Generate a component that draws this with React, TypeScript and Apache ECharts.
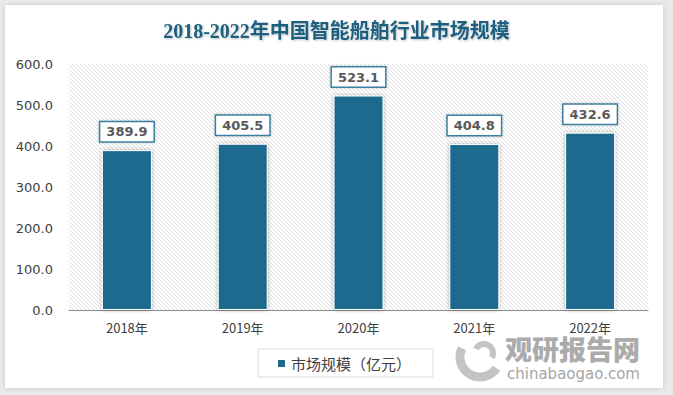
import React, { useEffect, useRef } from "react";
import * as echarts from "echarts";

const categories = ["2018年", "2019年", "2020年", "2021年", "2022年"];
const marketSize = [389.9, 405.5, 523.1, 404.8, 432.6];
const seriesName = "市场规模（亿元）";
const titleText = "2018-2022年中国智能船舶行业市场规模";

function makeHatch(): HTMLCanvasElement {
  const c = document.createElement("canvas");
  c.width = 4;
  c.height = 4;
  const ctx = c.getContext("2d")!;
  ctx.fillStyle = "#ffffff";
  ctx.fillRect(0, 0, 4, 4);
  ctx.strokeStyle = "#dddddd";
  ctx.lineWidth = 1;
  ctx.beginPath();
  ctx.moveTo(0, 0);
  ctx.lineTo(4, 4);
  ctx.moveTo(-1, 3);
  ctx.lineTo(1, 5);
  ctx.moveTo(3, -1);
  ctx.lineTo(5, 1);
  ctx.stroke();
  return c;
}

export default function App() {
  const ref = useRef<HTMLDivElement>(null);
  useEffect(() => {
    document.body.style.margin = "0";
    const chart = echarts.init(ref.current!, null, { renderer: "svg" });
    const hatch = makeHatch();
    chart.setOption({
      animation: false,
      backgroundColor: "#e9e9e9",
      title: {
        text: titleText,
        left: "center",
        top: 16,
        textStyle: {
          fontFamily: "'Liberation Serif', 'Noto Sans CJK SC', serif",
          fontWeight: "bold",
          fontSize: 20,
          color: "#1d5f7e",
          textShadowColor: "rgba(0,0,0,0.25)",
          textShadowBlur: 2,
          textShadowOffsetX: 1,
          textShadowOffsetY: 1,
        },
      },
      graphic: [
        {
          type: "rect",
          z: -10,
          shape: { x: 5, y: 5, width: 658, height: 383 },
          style: { fill: "#ffffff", shadowBlur: 4, shadowColor: "rgba(0,0,0,0.15)" },
        },
        {
          type: "rect",
          z: -5,
          shape: { x: 69, y: 64, width: 579, height: 246 },
          style: { fill: { image: hatch, repeat: "repeat" } as any },
        },
        {
          type: "arc",
          shape: { cx: 480, cy: 357, r: 20, startAngle: 0.6, endAngle: 3.6 },
          style: { stroke: "#c4c4c4", lineWidth: 9, fill: "none" },
        },
        {
          type: "arc",
          shape: { cx: 484, cy: 353, r: 9, startAngle: 3.6, endAngle: 6.8 },
          style: { stroke: "#c4c4c4", lineWidth: 6, fill: "none" },
        },
        {
          type: "text",
          x: 505,
          y: 335,
          style: {
            text: "观研报告网",
            font: "900 27px 'Noto Sans CJK SC'",
            fill: "#ababab",
          },
        },
        {
          type: "text",
          x: 507,
          y: 366,
          style: {
            text: "chinabaogao.com",
            font: "15px 'DejaVu Sans'",
            fill: "#a6a6a6",
          },
        },
      ],
      grid: { left: 69, right: 25, top: 64, bottom: 85 },
      legend: {
        data: [seriesName],
        left: 258,
        top: 349,
        padding: [7, 22, 6, 18],
        borderColor: "#dcdcdc",
        borderWidth: 1,
        itemWidth: 9,
        itemHeight: 9,
        itemGap: 4,
        icon: "rect",
        textStyle: { fontSize: 15, color: "#404040", fontFamily: "'Noto Sans CJK SC'" },
      },
      xAxis: {
        type: "category",
        data: categories,
        axisLine: { lineStyle: { color: "#8c8c8c" } },
        axisTick: { show: false },
        axisLabel: {
          color: "#404040",
          fontSize: 13,
          margin: 11,
          fontFamily: "'Noto Sans CJK SC'",
        },
      },
      yAxis: {
        type: "value",
        min: 0,
        max: 600,
        interval: 100,
        splitLine: { show: false },
        axisLine: { show: false },
        axisTick: { show: false },
        axisLabel: {
          color: "#404040",
          fontSize: 13,
          margin: 16,
          fontFamily: "'DejaVu Sans'",
          formatter: (v: number) => v.toFixed(1),
        },
      },
      series: [
        {
          name: seriesName,
          type: "bar",
          data: marketSize,
          barWidth: 50,
          itemStyle: {
            color: "#1c6a8e",
            borderColor: "#ffffff",
            borderWidth: 1,
            shadowBlur: 4,
            shadowColor: "rgba(0,0,0,0.3)",
          },
          label: {
            show: true,
            position: "top",
            distance: 9,
            formatter: (p: any) => p.value.toFixed(1),
            color: "#595959",
            fontWeight: "bold",
            fontSize: 13,
            fontFamily: "'DejaVu Sans'",
            backgroundColor: "#ffffff",
            borderColor: "#3d7fa0",
            borderWidth: 1.5,
            padding: [3, 6, 3, 6],
            shadowBlur: 3,
            shadowColor: "rgba(0,0,0,0.2)",
          },
        },
      ],
    });
    return () => chart.dispose();
  }, []);
  return <div ref={ref} style={{ width: 673, height: 395 }} />;
}
